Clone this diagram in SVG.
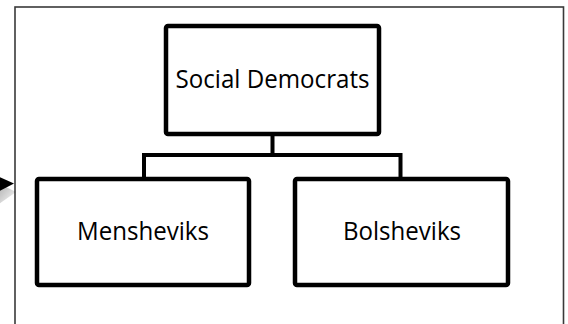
<svg xmlns="http://www.w3.org/2000/svg" width="568" height="324" viewBox="0 0 568 324">
  <style>
    .frame { fill: #ffffff; stroke: #3a3a3a; stroke-width: 1.6; }
    .box { fill: #ffffff; stroke: #000000; stroke-width: 4.5; }
    .conn { fill: none; stroke: #000000; stroke-width: 4; stroke-linejoin: miter; }
    .label { font-family: "Open Sans", "Noto Sans", "Liberation Sans", sans-serif; font-size: 26px; fill: #000000; text-anchor: middle; }
  </style>
  <defs>
    <linearGradient id="shadow" x1="0" y1="0" x2="1" y2="1">
      <stop offset="0" stop-color="#000000" stop-opacity="0.35"/>
      <stop offset="1" stop-color="#000000" stop-opacity="0"/>
    </linearGradient>
  </defs>
  <rect id="frame" class="frame" x="15" y="7" width="548.5" height="330"/>
  <g id="connectors">
    <polyline class="conn" points="272.5,136 272.5,155 144,155 144,179"/>
    <polyline class="conn" points="272.5,155 400.5,155 400.5,179"/>
    <polygon points="-4,182 16,192 -4,206" fill="url(#shadow)"/>
    <polygon points="-6,174.5 14,183.5 -6,194" fill="#000000"/>
  </g>
  <g id="social-democrats">
    <rect class="box" x="166" y="26" width="213" height="108" rx="2"/>
    <text class="label" x="272.5" y="87.5" textLength="194" lengthAdjust="spacingAndGlyphs">Social Democrats</text>
  </g>
  <g id="mensheviks">
    <rect class="box" x="37" y="179" width="212" height="106" rx="2"/>
    <text class="label" x="143" y="239.5" textLength="132" lengthAdjust="spacingAndGlyphs">Mensheviks</text>
  </g>
  <g id="bolsheviks">
    <rect class="box" x="295" y="179" width="213" height="106" rx="2"/>
    <text class="label" x="402" y="239.5" textLength="118" lengthAdjust="spacingAndGlyphs">Bolsheviks</text>
  </g>
</svg>
